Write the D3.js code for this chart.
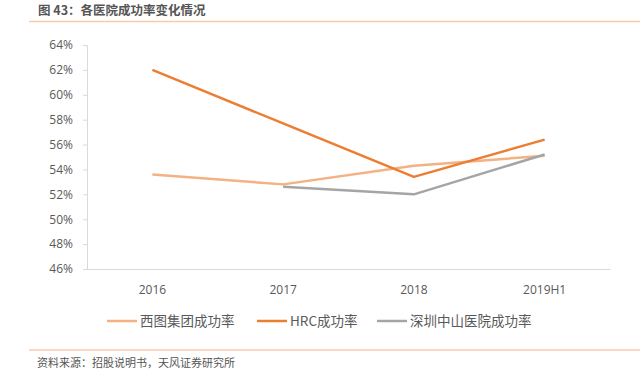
<!DOCTYPE html>
<html>
<head>
<meta charset="utf-8">
<script src="https://cdn.jsdelivr.net/npm/d3@7"></script>
<style>
  body { margin: 0; background: #fff; }
  svg { font-family: "Noto Sans CJK SC", "Open Sans", sans-serif; }
</style>
</head>
<body>
<svg width="644" height="375"></svg>
<script>
var categories = ["2016", "2017", "2018", "2019H1"];
var seriesNames = ["西图集团成功率", "HRC成功率", "深圳中山医院成功率"];
var xituValues = [53.6, 52.8, 54.3, 55.1];
var hrcValues = [62.0, 57.7, 53.4, 56.4];
var szValues = [null, 52.6, 52.0, 55.2];
var yTicks = [46, 48, 50, 52, 54, 56, 58, 60, 62, 64];
var colors = ["#F4B183", "#ED7D31", "#A5A5A5"];

var svg = d3.select("svg");

// header / footer
svg.append("text").attr("x", 38).attr("y", 15)
  .attr("font-size", 12.5).attr("font-weight", "bold").attr("fill", "#555")
  .text("图 43：各医院成功率变化情况");
svg.append("line").attr("x1", 29).attr("x2", 640).attr("y1", 21.5).attr("y2", 21.5)
  .attr("stroke", "#F8CBAD").attr("stroke-width", 1.5);
svg.append("line").attr("x1", 29).attr("x2", 640).attr("y1", 350).attr("y2", 350)
  .attr("stroke", "#F8CBAD").attr("stroke-width", 1.5);
svg.append("text").attr("x", 37).attr("y", 367)
  .attr("font-size", 11).attr("fill", "#555")
  .text("资料来源：招股说明书，天风证券研究所");

var x = d3.scaleBand().domain(categories).range([87, 610]);
var y = d3.scaleLinear().domain([46, 64]).range([269, 45]);

// y axis
var yAxis = svg.append("g").attr("transform", "translate(87,0)")
  .call(d3.axisLeft(y).tickValues(yTicks).tickSize(4).tickFormat(function (d) { return d + "%"; }));
yAxis.select(".domain").attr("stroke", "#d9d9d9");
yAxis.selectAll(".tick line").attr("stroke", "#d9d9d9");
yAxis.selectAll(".tick text").attr("fill", "#595959").attr("font-size", 12)
  .attr("font-family", "Open Sans, sans-serif").attr("x", -14);

// x axis
var xAxis = svg.append("g").attr("transform", "translate(0,269)")
  .call(d3.axisBottom(x).tickSize(0).tickSizeOuter(0));
xAxis.select(".domain").attr("stroke", "#d9d9d9");
xAxis.selectAll(".tick text").attr("fill", "#595959").attr("font-size", 12)
  .attr("font-family", "Open Sans, sans-serif").attr("dy", 0).attr("y", 25);

var allSeries = [xituValues, hrcValues, szValues];
var line = d3.line()
  .defined(function (d) { return d.v != null; })
  .x(function (d) { return x(d.c) + x.bandwidth() / 2; })
  .y(function (d) { return y(d.v); });

allSeries.forEach(function (vals, i) {
  var pts = categories.map(function (c, j) { return { c: c, v: vals[j] }; });
  svg.append("path").datum(pts).attr("d", line)
    .attr("fill", "none").attr("stroke", colors[i]).attr("stroke-width", 2.5)
    .attr("stroke-linejoin", "round");
});

// legend
var legendX = [107, 257, 377];
seriesNames.forEach(function (name, i) {
  var g = svg.append("g").attr("transform", "translate(" + legendX[i] + ",321)");
  g.append("line").attr("x1", 0).attr("x2", 30).attr("stroke", colors[i]).attr("stroke-width", 2.5);
  g.append("text").attr("x", 33).attr("y", 5).attr("font-size", 13.5).attr("fill", "#595959").text(name);
});
</script>
</body>
</html>
